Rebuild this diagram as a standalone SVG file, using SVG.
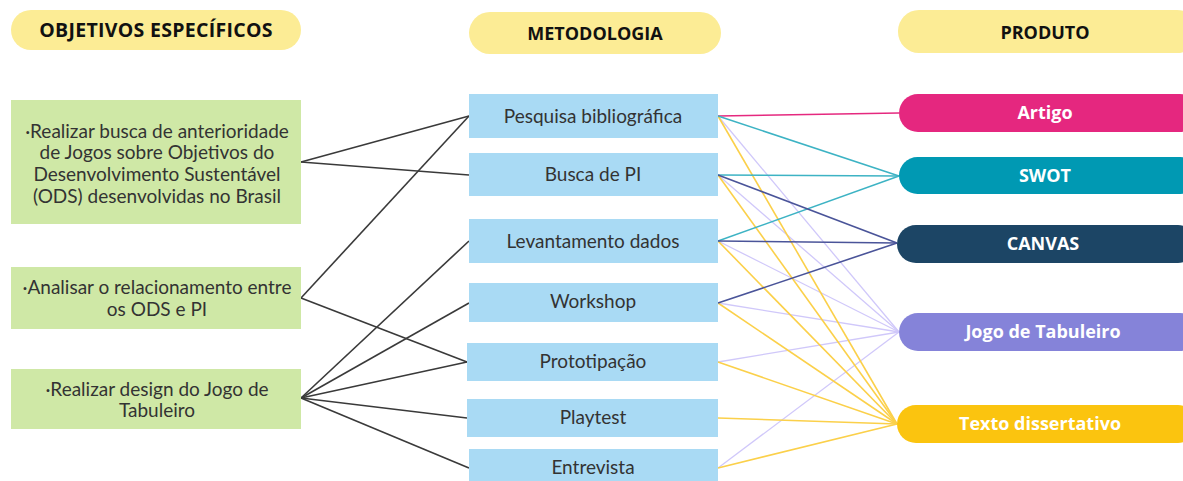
<svg xmlns="http://www.w3.org/2000/svg" width="1183" height="481" viewBox="0 0 1183 481">
<style>
.hdr{fill:#FCEC95}
.hdrt{font-family:"Open Sans",Lato,sans-serif;font-weight:700;font-size:18px;fill:#111;text-anchor:middle}
.big{font-size:19.5px;letter-spacing:0.3px}
.obj{fill:#CFE8A6}
.met{fill:#A9DAF4}
.t{font-family:Lato,"Open Sans",sans-serif;font-size:19px;fill:#333;text-anchor:middle}
.pt{font-family:"Open Sans",Lato,sans-serif;font-weight:700;font-size:18px;fill:#fff;text-anchor:middle}
.k{stroke:#3a3a3a;stroke-width:1.6;fill:none}
.pk{stroke:#E5297F;stroke-width:1.5;fill:none}
.tl{stroke:#3DB3C4;stroke-width:1.5;fill:none}
.nv{stroke:#4A5499;stroke-width:1.6;fill:none}
.lv{stroke:#D0C8FA;stroke-width:1.3;fill:none}
.yl{stroke:#FBD04A;stroke-width:1.6;fill:none}
</style>
<rect width="1183" height="481" fill="#fff"/>
<g id="connectors">
<line class="k" x1="301" y1="162" x2="469" y2="116"/>
<line class="k" x1="301" y1="162" x2="469" y2="175"/>
<line class="k" x1="301" y1="298" x2="469" y2="116"/>
<line class="k" x1="301" y1="298" x2="467" y2="362"/>
<line class="k" x1="301" y1="398" x2="469" y2="241"/>
<line class="k" x1="301" y1="398" x2="469" y2="303"/>
<line class="k" x1="301" y1="398" x2="467" y2="362"/>
<line class="k" x1="301" y1="398" x2="467" y2="418"/>
<line class="k" x1="301" y1="398" x2="469" y2="468"/>
<line class="lv" x1="718" y1="116" x2="899" y2="332"/>
<line class="lv" x1="718" y1="175" x2="899" y2="332"/>
<line class="lv" x1="718" y1="241" x2="899" y2="332"/>
<line class="lv" x1="718" y1="303" x2="899" y2="332"/>
<line class="lv" x1="718" y1="362" x2="899" y2="332"/>
<line class="lv" x1="718" y1="468" x2="899" y2="332"/>
<line class="yl" x1="718" y1="116" x2="897" y2="424"/>
<line class="yl" x1="718" y1="175" x2="897" y2="424"/>
<line class="yl" x1="718" y1="241" x2="897" y2="424"/>
<line class="yl" x1="718" y1="303" x2="897" y2="424"/>
<line class="yl" x1="718" y1="362" x2="897" y2="424"/>
<line class="yl" x1="718" y1="418" x2="897" y2="424"/>
<line class="yl" x1="718" y1="468" x2="897" y2="424"/>
<line class="pk" x1="718" y1="116" x2="899" y2="113"/>
<line class="tl" x1="718" y1="116" x2="899" y2="176"/>
<line class="tl" x1="718" y1="175" x2="899" y2="176"/>
<line class="tl" x1="718" y1="241" x2="899" y2="176"/>
<line class="nv" x1="718" y1="175" x2="897" y2="243"/>
<line class="nv" x1="718" y1="241" x2="897" y2="243"/>
<line class="nv" x1="718" y1="303" x2="897" y2="243"/>
</g>
<g id="h-objetivos"><rect class="hdr" x="11" y="10" width="290" height="40" rx="20"/><text class="hdrt big" x="156" y="37">OBJETIVOS ESPECÍFICOS</text></g>
<g id="h-metodologia"><rect class="hdr" x="469" y="12" width="252" height="42" rx="21"/><text class="hdrt" x="595" y="40">METODOLOGIA</text></g>
<g id="h-produto"><rect class="hdr" x="898" y="10" width="300" height="43" rx="21"/><text class="hdrt" x="1045" y="39">PRODUTO</text></g>
<g id="obj1"><rect class="obj" x="11" y="100" width="290" height="124"/><text class="t"><tspan x="157" y="138">·Realizar busca de anterioridade</tspan><tspan x="157" y="159">de Jogos sobre Objetivos do</tspan><tspan x="157" y="181">Desenvolvimento Sustentável</tspan><tspan x="157" y="203">(ODS) desenvolvidas no Brasil</tspan></text></g>
<g id="obj2"><rect class="obj" x="11" y="267" width="290" height="62"/><text class="t"><tspan x="157" y="294">·Analisar o relacionamento entre</tspan><tspan x="157" y="316">os ODS e PI</tspan></text></g>
<g id="obj3"><rect class="obj" x="11" y="369" width="290" height="60"/><text class="t"><tspan x="157" y="396">·Realizar design do Jogo de</tspan><tspan x="157" y="417">Tabuleiro</tspan></text></g>
<g id="m1"><rect class="met" x="469" y="94" width="249" height="44"/><text class="t" x="593" y="123">Pesquisa bibliográfica</text></g>
<g id="m2"><rect class="met" x="469" y="153" width="249" height="43"/><text class="t" x="593" y="181">Busca de PI</text></g>
<g id="m3"><rect class="met" x="469" y="219" width="249" height="44"/><text class="t" x="593" y="248">Levantamento dados</text></g>
<g id="m4"><rect class="met" x="469" y="283" width="249" height="39"/><text class="t" x="593" y="308">Workshop</text></g>
<g id="m5"><rect class="met" x="467" y="343" width="251" height="38"/><text class="t" x="593" y="368">Prototipação</text></g>
<g id="m6"><rect class="met" x="467" y="399" width="251" height="38"/><text class="t" x="593" y="424">Playtest</text></g>
<g id="m7"><rect class="met" x="469" y="449" width="249" height="36"/><text class="t" x="593" y="474">Entrevista</text></g>
<g id="p-artigo"><rect x="899" y="94" width="300" height="38" rx="19" fill="#E5277F"/><text class="pt" x="1045" y="119">Artigo</text></g>
<g id="p-swot"><rect x="899" y="157" width="300" height="37" rx="18.5" fill="#0099B3"/><text class="pt" x="1045" y="182">SWOT</text></g>
<g id="p-canvas"><rect x="897" y="225" width="300" height="38" rx="19" fill="#1C4565"/><text class="pt" x="1043" y="250">CANVAS</text></g>
<g id="p-jogo"><rect x="899" y="313" width="300" height="38" rx="19" fill="#8583D9"/><text class="pt" x="1043" y="338">Jogo de Tabuleiro</text></g>
<g id="p-texto"><rect x="897" y="405" width="300" height="38" rx="19" fill="#FBC40F"/><text class="pt" x="1040" y="430">Texto dissertativo</text></g>
</svg>
